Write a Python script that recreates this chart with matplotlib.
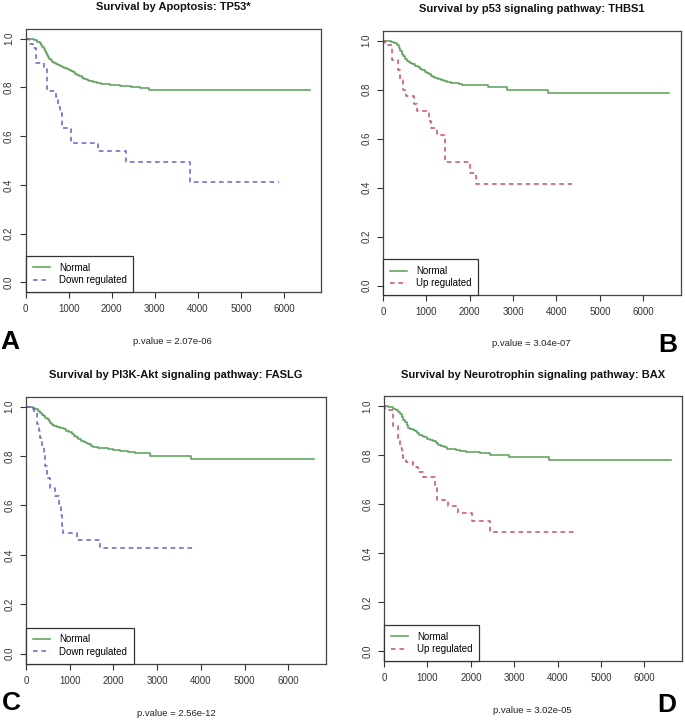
import numpy as np
import matplotlib
matplotlib.use('Agg')
import matplotlib.pyplot as plt

plt.rcParams['font.family'] = ['Liberation Sans', 'DejaVu Sans']

W, H = 685, 721

# ---- data: step times (days) and survival values ----
a_norm_t = [0, 120, 200, 260, 330, 360, 390, 415, 440, 465, 490, 515, 540, 580, 620, 660, 700, 750, 800, 850, 900, 950, 1000, 1050, 1100, 1150, 1200, 1250, 1300, 1360, 1420, 1480, 1560, 1650, 1750, 1850, 1950, 2050, 2200, 2350, 2450, 2650, 2862, 6600]
a_norm_s = [1.0, 0.997, 0.993, 0.988, 0.982, 0.975, 0.966, 0.957, 0.948, 0.940, 0.932, 0.925, 0.918, 0.911, 0.906, 0.901, 0.897, 0.893, 0.889, 0.885, 0.881, 0.877, 0.873, 0.868, 0.862, 0.856, 0.850, 0.845, 0.840, 0.835, 0.830, 0.826, 0.822, 0.819, 0.816, 0.813, 0.811, 0.809, 0.806, 0.804, 0.801, 0.799, 0.791, 0.791]
a_grp_t = [0, 70, 180, 230, 420, 490, 705, 760, 800, 840, 1054, 1690, 2325, 3822, 5877]
a_grp_s = [1.0, 0.98, 0.96, 0.90, 0.875, 0.787, 0.76, 0.72, 0.695, 0.634, 0.572, 0.538, 0.492, 0.41, 0.41]

b_norm_t = [0, 100, 180, 250, 316, 360, 400, 435, 470, 510, 550, 590, 623, 680, 740, 800, 854, 900, 960, 1008, 1060, 1110, 1160, 1200, 1260, 1330, 1400, 1470, 1560, 1650, 1750, 1815, 2100, 2431, 2854, 3815, 6600]
b_norm_s = [1.0, 0.997, 0.994, 0.99, 0.98, 0.97, 0.958, 0.946, 0.936, 0.926, 0.918, 0.913, 0.909, 0.903, 0.896, 0.890, 0.884, 0.879, 0.873, 0.868, 0.862, 0.856, 0.851, 0.847, 0.842, 0.838, 0.834, 0.831, 0.828, 0.825, 0.822, 0.82, 0.817, 0.81, 0.798, 0.786, 0.786]
b_grp_t = [0, 50, 200, 354, 400, 460, 531, 715, 777, 1050, 1115, 1238, 1438, 2008, 2146, 4355]
b_grp_s = [1.0, 0.98, 0.92, 0.88, 0.84, 0.80, 0.772, 0.74, 0.711, 0.67, 0.643, 0.616, 0.503, 0.46, 0.416, 0.416]

c_norm_t = [0, 100, 160, 213, 270, 327, 370, 410, 445, 479, 520, 560, 600, 631, 700, 780, 859, 920, 990, 1049, 1100, 1150, 1201, 1260, 1320, 1380, 1429, 1490, 1543, 1650, 1760, 1886, 2000, 2150, 2342, 2500, 2836, 3786, 6600]
c_norm_s = [1.0, 0.997, 0.994, 0.99, 0.984, 0.976, 0.968, 0.96, 0.955, 0.949, 0.94, 0.932, 0.926, 0.922, 0.918, 0.913, 0.908, 0.902, 0.896, 0.891, 0.883, 0.875, 0.868, 0.862, 0.857, 0.852, 0.847, 0.842, 0.837, 0.834, 0.831, 0.827, 0.824, 0.821, 0.818, 0.811, 0.799, 0.788, 0.788]
c_grp_t = [0, 120, 175, 251, 290, 327, 370, 403, 440, 479, 555, 669, 745, 790, 821, 844, 1163, 1695, 3855]
c_grp_s = [1.0, 0.99, 0.976, 0.928, 0.90, 0.874, 0.84, 0.813, 0.76, 0.712, 0.672, 0.638, 0.604, 0.56, 0.516, 0.489, 0.462, 0.426, 0.426]

d_norm_t = [0, 100, 160, 215, 270, 331, 370, 410, 446, 480, 520, 561, 610, 660, 715, 760, 810, 869, 930, 1000, 1062, 1120, 1190, 1254, 1310, 1380, 1446, 1550, 1650, 1754, 1900, 2050, 2215, 2450, 2869, 3792, 6600]
d_norm_s = [1.0, 0.997, 0.994, 0.989, 0.983, 0.976, 0.966, 0.955, 0.944, 0.933, 0.921, 0.91, 0.905, 0.9, 0.896, 0.889, 0.883, 0.876, 0.871, 0.866, 0.862, 0.855, 0.848, 0.842, 0.836, 0.831, 0.826, 0.822, 0.818, 0.815, 0.812, 0.81, 0.808, 0.801, 0.792, 0.78, 0.78]
d_grp_t = [0, 20, 200, 331, 369, 420, 446, 508, 677, 792, 908, 1177, 1231, 1485, 1715, 2023, 2431, 4424]
d_grp_s = [1.0, 0.981, 0.917, 0.87, 0.828, 0.80, 0.787, 0.771, 0.75, 0.731, 0.709, 0.665, 0.618, 0.59, 0.563, 0.532, 0.484, 0.484]

titles = ['Survival by Apoptosis: TP53*',
          'Survival by p53 signaling pathway: THBS1',
          'Survival by PI3K-Akt signaling pathway: FASLG',
          'Survival by Neurotrophin signaling pathway: BAX']
group_labels = ['Down regulated', 'Up regulated', 'Down regulated', 'Up regulated']
pvalues = ['p.value = 2.07e-06', 'p.value = 3.04e-07', 'p.value = 2.56e-12', 'p.value = 3.02e-05']
letters = ['A', 'B', 'C', 'D']

GREEN = '#55a055'
BLUE = '#6060d0'
RED = '#cc5060'
group_colors = [BLUE, RED, BLUE, RED]

curves = [(a_norm_t, a_norm_s, a_grp_t, a_grp_s),
          (b_norm_t, b_norm_s, b_grp_t, b_grp_s),
          (c_norm_t, c_norm_s, c_grp_t, c_grp_s),
          (d_norm_t, d_norm_s, d_grp_t, d_grp_s)]

# axes boxes in pixels: left, top, right, bottom
boxes = [(25.7, 29, 321, 292),
         (383, 30.7, 680.7, 295.3),
         (26, 396.7, 326, 663.7),
         (384, 396, 682, 661)]
title_y = [7.3, 9.3, 375, 375]
pval_pos = [(172.7, 341.7), (531, 344), (176, 713.3), (532.7, 710.7)]
letter_pos = [(10, 342), (668, 345), (11, 703), (667, 705)]

fig = plt.figure(figsize=(W / 100, H / 100), dpi=100)
fig.patch.set_facecolor('white')

def px(x, y):
    return x / W, 1 - y / H

for i in range(4):
    l, t, r, b = boxes[i]
    ax = fig.add_axes([l / W, 1 - b / H, (r - l) / W, (b - t) / H])
    nt, ns, gt, gs = curves[i]
    ax.plot(nt, ns, drawstyle='steps-post', color=GREEN, lw=1.1, label='Normal')
    ax.plot(gt, gs, drawstyle='steps-post', color=group_colors[i], lw=1.1,
            dashes=(3, 2.5), label=group_labels[i])
    ax.set_xlim(0, 6864)
    ax.set_ylim(-0.04, 1.04)
    ax.set_xticks(np.arange(0, 7000, 1000))
    ax.set_yticks(np.arange(0, 1.01, 0.2))
    ax.set_yticklabels(['0.0', '0.2', '0.4', '0.6', '0.8', '1.0'], rotation=90, va='center')
    ax.tick_params(length=4, width=0.8, labelsize=7, colors='#333333', pad=4.5)
    for sp in ax.spines.values():
        sp.set_color('#444444')
        sp.set_linewidth(0.9)
    leg = ax.legend(loc='lower left', bbox_to_anchor=(0, 0), borderaxespad=0,
                    fancybox=False, edgecolor='#333333', framealpha=1,
                    fontsize=7, handlelength=1.8, labelspacing=0.25,
                    borderpad=0.7, handletextpad=0.9)
    leg.get_frame().set_linewidth(0.9)

    cx = (l + r) / 2
    fig.text(*px(cx, title_y[i]), titles[i], ha='center', va='center',
             fontsize=8.0, fontweight='bold', color='#111111')
    fig.text(*px(*pval_pos[i]), pvalues[i], ha='center', va='center',
             fontsize=6.8, color='#222222')
    fig.text(*px(*letter_pos[i]), letters[i], ha='center', va='center',
             fontsize=19, fontweight='bold', color='black')

fig.savefig('out.png', dpi=100)
